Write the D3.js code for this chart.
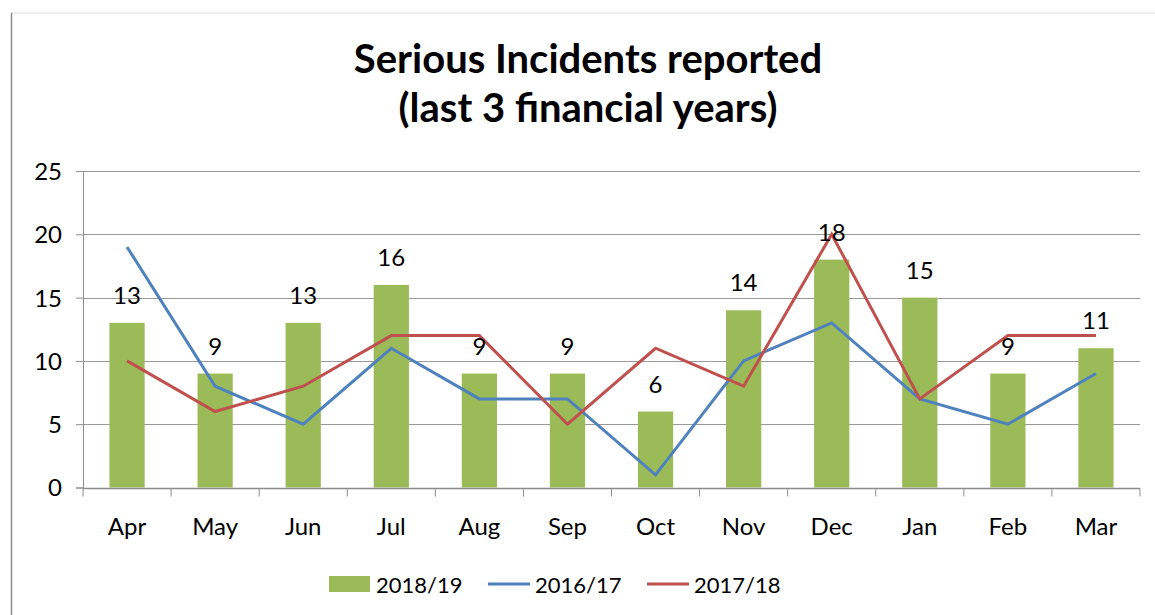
<!DOCTYPE html>
<html>
<head>
<meta charset="utf-8">
<script src="https://cdn.jsdelivr.net/npm/d3@7"></script>
<style>
  body { margin: 0; background: #fff; }
  text { font-family: Lato, "Open Sans", sans-serif; fill: #000; }
</style>
</head>
<body>
<div id="chart"></div>
<script>
// Data
const months = ["Apr", "May", "Jun", "Jul", "Aug", "Sep", "Oct", "Nov", "Dec", "Jan", "Feb", "Mar"];
const fy1819 = [13, 9, 13, 16, 9, 9, 6, 14, 18, 15, 9, 11];
const fy1617 = [19, 8, 5, 11, 7, 7, 1, 10, 13, 7, 5, 9];
const fy1718 = [10, 6, 8, 12, 12, 5, 11, 8, 20, 7, 12, 12];
const yTicks = [0, 5, 10, 15, 20, 25];
const titleLines = ["Serious Incidents reported", "(last 3 financial years)"];

const WIDTH = 1155, HEIGHT = 615;
const MARGINS = {left: 83, right: 15, top: 171, bottom: 127};

const svg = d3.select("#chart").append("svg")
  .attr("width", WIDTH)
  .attr("height", HEIGHT);

// outer chart border
svg.append("line").attr("x1", 11).attr("x2", WIDTH).attr("y1", 13).attr("y2", 13)
  .attr("stroke", "#d9d9d9").attr("stroke-width", 1);
svg.append("line").attr("x1", 11.5).attr("x2", 11.5).attr("y1", 13).attr("y2", HEIGHT)
  .attr("stroke", "#8c8c8c").attr("stroke-width", 1.5);

// title
svg.selectAll(".title").data(titleLines).enter()
  .append("text")
    .attr("class", "title")
    .attr("x", 588)
    .attr("y", (d, i) => 73 + i * 49)
    .attr("text-anchor", "middle")
    .style("font-size", "40px")
    .style("font-weight", "bold")
    .text(d => d);

const x = d3.scaleBand()
  .domain(months)
  .range([MARGINS.left, WIDTH - MARGINS.right])
  .paddingInner(0.6)
  .paddingOuter(0.3);

const y = d3.scaleLinear()
  .domain([0, 25])
  .range([HEIGHT - MARGINS.bottom - 0.5, MARGINS.top]);

const step = x.step();
const cx = d => x(d) + x.bandwidth() / 2;

// gridlines
svg.append("g").selectAll("line").data(yTicks.filter(t => t > 0)).enter()
  .append("line")
    .attr("x1", MARGINS.left).attr("x2", WIDTH - MARGINS.right)
    .attr("y1", d => Math.round(y(d)) + 0.5).attr("y2", d => Math.round(y(d)) + 0.5)
    .attr("stroke", "#999999").attr("stroke-width", 1);

// y axis
const yAxis = svg.append("g")
  .attr("transform", `translate(${MARGINS.left},0)`)
  .call(d3.axisLeft(y).tickValues(yTicks).tickSize(7).tickPadding(14));
yAxis.selectAll("text").style("font-size", "24px").attr("dy", "0.35em");
yAxis.selectAll("line, path").attr("stroke", "#8c8c8c");

// bars
svg.append("g").selectAll("rect").data(fy1819).enter()
  .append("rect")
    .attr("x", (d, i) => x(months[i]))
    .attr("width", x.bandwidth())
    .attr("y", d => y(d))
    .attr("height", d => y(0) - y(d))
    .attr("fill", "#9BBB59");

// x axis with ticks between categories
const xg = svg.append("g").attr("transform", `translate(0,${Math.round(y(0)) + 0.5})`);
xg.append("line").attr("x1", MARGINS.left).attr("x2", WIDTH - MARGINS.right)
  .attr("stroke", "#8c8c8c").attr("stroke-width", 1.5);
xg.selectAll(".tk").data(d3.range(months.length + 1)).enter()
  .append("line")
    .attr("x1", i => MARGINS.left + i * step).attr("x2", i => MARGINS.left + i * step)
    .attr("y1", 0).attr("y2", 8)
    .attr("stroke", "#8c8c8c");
xg.selectAll("text").data(months).enter()
  .append("text")
    .attr("x", d => cx(d))
    .attr("y", 46)
    .attr("text-anchor", "middle")
    .style("font-size", "24px")
    .text(d => d);

// lines
const line = d3.line()
  .x((d, i) => cx(months[i]))
  .y(d => y(d));

svg.append("path").datum(fy1617)
  .attr("d", line).attr("fill", "none")
  .attr("stroke", "#4F81BD").attr("stroke-width", 3);
svg.append("path").datum(fy1718)
  .attr("d", line).attr("fill", "none")
  .attr("stroke", "#C0504D").attr("stroke-width", 3);

// data labels for bars
svg.append("g").selectAll("text").data(fy1819).enter()
  .append("text")
    .attr("x", (d, i) => cx(months[i]))
    .attr("y", d => y(d) - 19)
    .attr("text-anchor", "middle")
    .style("font-size", "24px")
    .text(d => d);

// legend
const legend = [
  {name: "2018/19", color: "#9BBB59", type: "rect", x: 329},
  {name: "2016/17", color: "#4F81BD", type: "line", x: 488},
  {name: "2017/18", color: "#C0504D", type: "line", x: 647}
];
const lg = svg.append("g");
legend.forEach(l => {
  if (l.type === "rect") {
    lg.append("rect").attr("x", l.x).attr("y", 576).attr("width", 41).attr("height", 16).attr("fill", l.color);
  } else {
    lg.append("line").attr("x1", l.x).attr("x2", l.x + 42).attr("y1", 584).attr("y2", 584)
      .attr("stroke", l.color).attr("stroke-width", 3);
  }
  lg.append("text").attr("x", l.x + 47).attr("y", 593).style("font-size", "22px").text(l.name);
});
</script>
</body>
</html>
